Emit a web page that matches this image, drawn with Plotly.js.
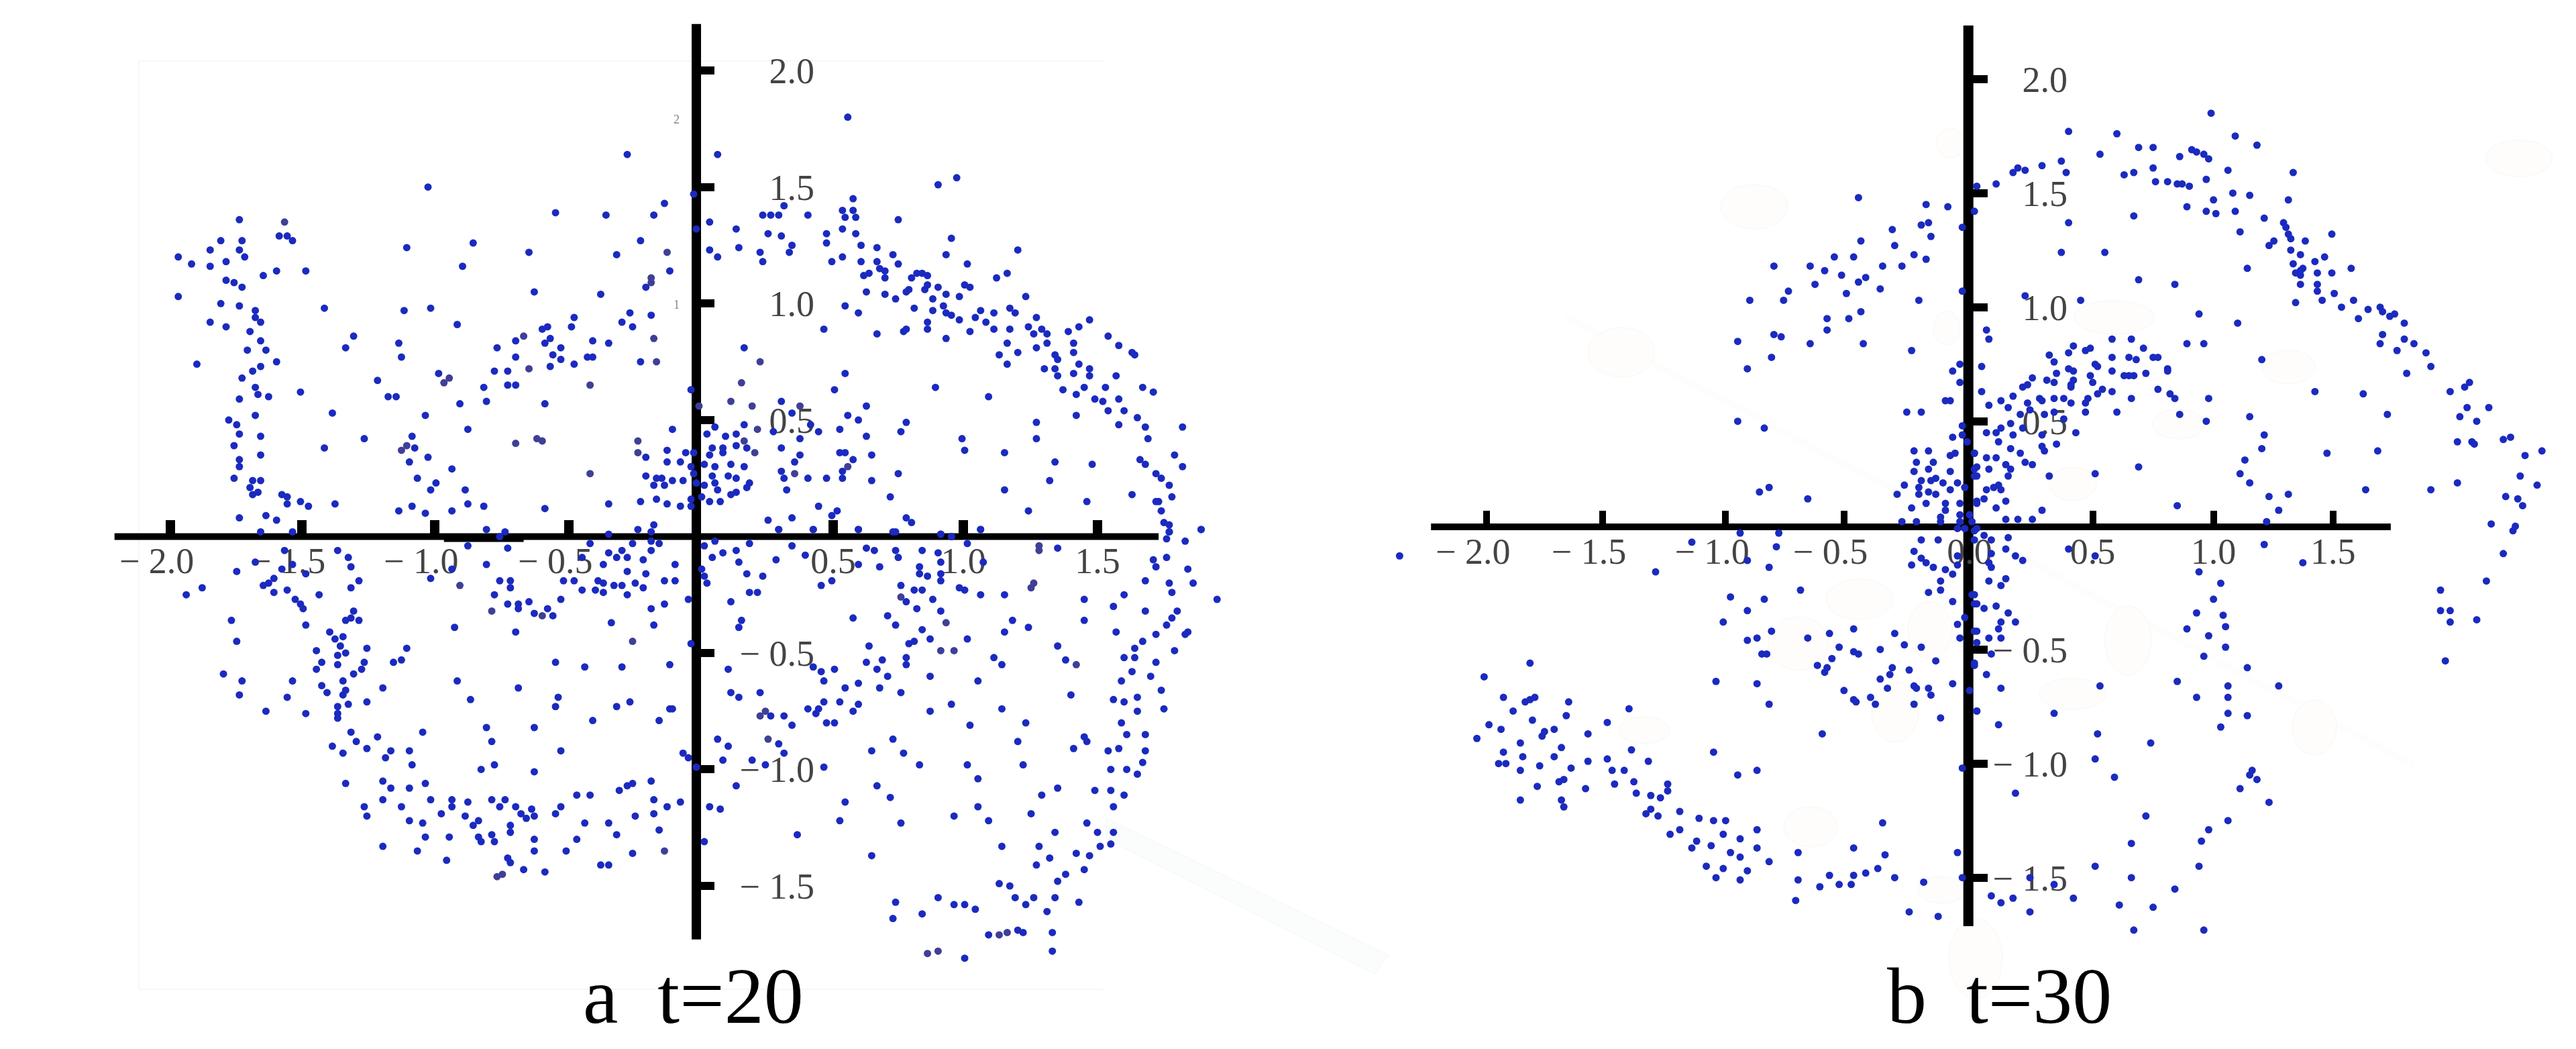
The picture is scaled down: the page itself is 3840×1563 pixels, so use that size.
<!DOCTYPE html>
<html>
<head>
<meta charset="utf-8">
<script src="https://cdn.plot.ly/plotly-3.0.1.min.js"></script>
<style>html,body{margin:0;padding:0;background:#fff}</style>
</head>
<body>
<div id="chart" style="width:3840px;height:1563px"></div>
<script>
// panel a, t=20
const aUpperLeft = [[-1.95,1.2],[-1.9,1.17],[-1.83,1.23],[-1.79,1.27],[-1.71,1.27],[-1.72,1.23],[-1.7,1.2],[-1.77,1.18],[-1.83,1.16],[-1.95,1.03],[-1.77,1.1],[-1.74,1.09],[-1.71,1.07],[-1.79,1],[-1.72,.99],[-1.66,.97],[-1.66,.94],[-1.64,.92],[-1.83,.92],[-1.77,.9],[-1.68,.88],[-1.64,.84],[-1.62,.8],[-1.69,.8],[-1.58,.75],[-1.64,.73],[-1.88,.74],[-1.67,.71],[-1.71,.68],[-1.66,.64],[-1.65,.61],[-1.61,.6],[-1.72,.59],[-1.49,.62],[-1.76,.5],[-1.66,.52],[-1.73,.48],[-1.72,.44],[-1.64,.43],[-1.74,.39],[-1.64,.35],[-1.72,.33],[-1.72,.3],[-1.74,.25],[-1.67,.24],[-1.64,.24],[-1.68,.21],[-1.67,.18],[-1.65,.19],[-1.56,.18],[-1.54,.17],[-1.54,.14],[-1.49,.15],[-1.46,.13],[-1.36,.14],[-1.72,.08],[-1.62,.09],[-1.58,.07],[-1.64,.02],[-1.52,.02],[-1.72,1.36],[-1.57,1.29],[-1.54,1.29],[-1.52,1.27],[-1.63,1.12],[-1.58,1.14],[-1.47,1.14],[-1.4,.98],[-.26,1.64],[-1.01,1.5],[-.12,1.43],[-.53,1.39],[-.34,1.38],[-.16,1.38],[-1.09,1.24],[-.84,1.26],[-.88,1.16],[-.63,1.22],[-.61,1.05],[-.36,1.04],[-.3,1.21],[-.21,1.27],[-.1,1.14],[-.19,1.07],[-1.1,.97],[-1,.98],[-.9,.91],[-1.29,.86],[-1.32,.81],[-1.12,.83],[-1.11,.77],[-1.2,.67],[-1.16,.6],[-1.13,.6],[-1.02,.52],[-1.37,.53],[-1.25,.42],[-1.4,.38],[-1.07,.43],[-1.06,.38],[-1.08,.32],[-1.01,.34],[-.92,.29],[-1.05,.25],[-.98,.23],[-1,.2],[-.87,.2],[-.86,.14],[-.8,.13],[-1.07,.13],[-1.12,.11],[-1.02,.1],[-.92,.11],[-.79,.03],[-.72,.02],[-.74,0],[-.57,.12],[-.97,.7],[-.8,.64],[-.76,.71],[-.71,.71],[-.71,.65],[-.68,.65],[-.55,.73],[-.51,.76],[-.46,.74],[-.41,.77],[-.39,.77],[-.54,.78],[-.51,.81],[-.57,.83],[-.55,.85],[-.68,.77],[-.75,.81],[-.68,.84],[-.58,.89],[-.56,.9],[-.47,.9],[-.46,.94],[-.39,.84],[-.33,.83],[-.25,.96],[-.28,.92],[-.24,.9],[-.17,.95],[-.21,.75],[-.89,.57],[-.79,.58],[-.57,.57],[-.86,.46],[-.19,.34],[-.11,.37],[-.11,.32],[-.19,.26],[-.15,.25],[-.13,.25],[-.16,.22],[-.12,.22],[-.21,.15],[-.15,.16],[-.33,.14],[-.11,.14],[-.16,.05],[-.22,.03],[-.17,.02],[-.33,.01]];
const aUpperRight = [[.57,1.8],[.08,1.64],[-.01,1.47],[.91,1.51],[.98,1.54],[.59,1.45],[.33,1.42],[.25,1.38],[.28,1.38],[.31,1.38],[.42,1.38],[.55,1.4],[.59,1.4],[.56,1.37],[.6,1.37],[.76,1.36],[.05,1.35],[.15,1.32],[0,1.32],[.27,1.3],[.32,1.29],[.49,1.3],[.55,1.32],[.6,1.3],[.96,1.28],[.49,1.26],[.62,1.25],[.68,1.24],[.74,1.21],[1.21,1.23],[.05,1.23],[.16,1.24],[.24,1.22],[.36,1.25],[.35,1.22],[.08,1.2],[.25,1.18],[.51,1.18],[.55,1.2],[.62,1.18],[.68,1.18],[.76,1.17],[.94,1.21],[1.02,1.17],[1.17,1.13],[1.13,1.11],[.69,1.15],[.71,1.14],[.65,1.13],[.63,1.12],[.71,1.11],[.83,1.13],[.85,1.13],[.87,1.12],[.81,1.11],[.87,1.08],[.86,1.06],[.91,1.07],[1.01,1.08],[1.03,1.07],[.8,1.06],[.79,1.05],[.64,1.05],[.71,1.04],[.75,1.02],[.94,1.04],[.89,1.02],[.99,1.03],[1.24,1.03],[.93,.99],[.82,.98],[.56,.99],[.61,.96],[.89,.97],[.94,.96],[.96,.95],[.99,.93],[1.07,.97],[1.12,.96],[1.18,.98],[1.2,.96],[1.28,.94],[1.48,.93],[1.05,.94],[1.09,.92],[.87,.92],[.87,.89],[1.25,.9],[1.12,.89],[1.18,.89],[1.3,.89],[1.4,.88],[1.44,.9],[1.03,.88],[.48,.89],[.68,.87],[.78,.88],[.79,.89],[.94,.85],[1.27,.87],[1.32,.87],[1.55,.86],[1.32,.83],[1.42,.83],[1.17,.83],[1.59,.82],[1.28,.81],[1.21,.79],[1.14,.78],[1.35,.78],[1.42,.79],[1.64,.79],[1.65,.78],[.18,.81],[1.36,.76],[1.17,.74],[1.44,.74],[1.31,.72],[1.35,.72],[1.48,.72],[1.42,.7],[1.48,.69],[1.36,.69],[1.58,.69],[.56,.7],[1.46,.64],[1.54,.64],[1.68,.64],[1.72,.62],[1.38,.63],[1.43,.61],[.9,.64],[1.1,.6],[.52,.63],[-.02,.63],[1.5,.59],[1.53,.58],[1.59,.59],[1.55,.54],[1.61,.54],[1.43,.52],[1.66,.51],[1.28,.49],[1.59,.48],[1.69,.47],[1.83,.47],[1.28,.42],[1.7,.42],[1,.42],[1.01,.37],[1.16,.36],[1.8,.35],[1.67,.33],[1.69,.31],[1.83,.3],[1.35,.32],[1.49,.31],[1.73,.27],[1.75,.25],[1.33,.24],[1.78,.22],[1.16,.2],[1.79,.17],[1.64,.18],[1.74,.15],[1.73,.15],[1.47,.15],[1.75,.11],[1.25,.11],[1.76,.06],[1.78,.05],[1.78,.02],[1.9,.03],[1.07,.03],[.92,.01],[.96,0]];
const aCenter = [[.32,.58],[.36,.53],[.57,.52],[.61,.5],[.79,.49],[.64,.56],[.43,.48],[.46,.45],[.54,.46],[.77,.45],[.29,.45],[.18,.48],[.07,.47],[.04,.44],[.11,.43],[.15,.44],[-.09,.46],[.39,.42],[.64,.43],[.06,.38],[.1,.38],[.15,.39],[.19,.38],[.32,.38],[.39,.35],[.54,.36],[.56,.36],[.66,.35],[-.04,.36],[-.01,.36],[.05,.35],[.1,.36],[-.06,.32],[-.02,.3],[.03,.31],[.07,.3],[.13,.31],[.18,.3],[.37,.32],[.59,.33],[.32,.28],[-.01,.27],[.06,.26],[.12,.26],[.15,.25],[.33,.25],[.42,.25],[.49,.25],[.55,.25],[.55,.28],[.76,.27],[.66,.24],[-.09,.24],[-.05,.24],[0,.23],[.03,.22],[.07,.23],[.2,.23],[.08,.2],[.15,.19],[.19,.21],[.34,.2],[.13,.18],[-.02,.16],[.02,.17],[.05,.15],[.09,.15],[-.06,.13],[-.02,.13],[.46,.13],[.53,.11],[.51,.09],[.73,.17],[.79,.08],[.81,.06],[.27,.07],[.36,.08],[.31,.03],[.44,.03],[.61,.03],[.74,.02]];
const aLowerLeft = [[-1.55,-.06],[-1.66,-.11],[-1.73,-.15],[-1.56,-.14],[-1.52,-.12],[-1.47,-.16],[-1.35,-.06],[-1.31,-.09],[-1.3,-.13],[-1.27,-.19],[-1.3,-.22],[-1.86,-.22],[-1.92,-.25],[-1.63,-.21],[-1.61,-.2],[-1.59,-.18],[-1.59,-.24],[-1.54,-.23],[-1.51,-.27],[-1.49,-.29],[-1.48,-.31],[-1.42,-.25],[-1.29,-.32],[-1.32,-.36],[-1.27,-.36],[-1.3,-.35],[-1.75,-.36],[-1.47,-.38],[-1.73,-.45],[-1.38,-.41],[-1.36,-.44],[-1.33,-.43],[-1.34,-.47],[-1.24,-.48],[-1.09,-.48],[-1.43,-.49],[-1.35,-.51],[-1.32,-.5],[-1.41,-.54],[-1.35,-.55],[-1.25,-.54],[-1.14,-.54],[-1.11,-.53],[-1.43,-.57],[-1.26,-.57],[-1.29,-.59],[-1.78,-.59],[-1.71,-.62],[-1.52,-.62],[-1.33,-.62],[-1.41,-.64],[-1.39,-.67],[-1.32,-.66],[-1.33,-.68],[-1.18,-.65],[-1.72,-.68],[-1.54,-.69],[-1.35,-.73],[-1.31,-.72],[-1.24,-.71],[-1.62,-.75],[-1.47,-.76],[-1.35,-.76],[-1.35,-.78],[-1.3,-.84],[-1.2,-.86],[-1.28,-.88],[-1.37,-.9],[-1.24,-.91],[-1.33,-.93],[-1.15,-.92],[-1.08,-.92],[-1.17,-.95],[-1.07,-.98],[-1.03,-.84],[-1.32,-1.06],[-1.18,-1.05],[-1.15,-1.08],[-1.08,-1.08],[-1.02,-1.06],[-1.18,-1.13],[-1,-1.13],[-1.25,-1.16],[-1.11,-1.16],[-1.24,-1.2],[-.92,-1.13],[-.92,-1.16],[-.96,-1.19],[-.86,-1.14],[-1.08,-1.22],[-1.03,-1.23],[-.87,-1.2],[-1.02,-1.29],[-.93,-1.29],[-1.18,-1.33],[-1.05,-1.35],[-.94,-1.39],[-.82,-1.22],[-.84,-1.24],[-.82,-1.29],[-.81,-1.31],[-.77,-1.28],[-.76,-1.31],[-.77,-1.13],[-.72,-1.13],[-.74,-1.16],[-.68,-1.16],[-.66,-1.19],[-.62,-1.17],[-.64,-1.21],[-.61,-1.2],[-.7,-1.24],[-.7,-1.27],[-.61,-1.3],[-.61,-1.35],[-.51,-1.16],[-.53,-1.19],[-.45,-1.11],[-.4,-1.11],[-.42,-1.23],[-.33,-1.23],[-.45,-1.3],[-.49,-1.35],[-.3,-1.28],[-.23,-1.2],[-.16,-1.19],[-.16,-1.13],[-.14,-1.26],[-.11,-1.16],[-.24,-1.36],[-.71,-1.38],[-.7,-1.4],[-.65,-1.43],[-.57,-1.44],[-.36,-1.41],[-.33,-1.41],[-.29,-1.09],[-.26,-1.07],[-.24,-1.06],[-.17,-1.05],[-.91,-.39],[-.68,-.41],[-.53,-.54],[-.42,-.56],[-.28,-.56],[-.1,-.55],[-.9,-.62],[-.67,-.65],[-.85,-.7],[-.52,-.69],[-.53,-.73],[-.25,-.71],[-.3,-.73],[-.1,-.74],[-.39,-.79],[-.14,-.79],[-.79,-.82],[-.61,-.82],[-.77,-.88],[-.51,-.92],[-.76,-.98],[-.81,-1],[-.61,-1.01],[-.92,-.14],[-1,-.18],[-.86,-.04],[-.71,-.05],[-.79,-.12],[-.74,-.19],[-.7,-.19],[-.7,-.22],[-.76,-.25],[-.71,-.29],[-.67,-.29],[-.63,-.28],[-.67,-.31],[-.61,-.33],[-.56,-.31],[-.54,-.34],[-.51,-.27],[-.5,-.19],[-.46,-.19],[-.43,-.09],[-.4,-.03],[-.35,-.12],[-.37,-.19],[-.35,-.2],[-.31,-.21],[-.28,-.21],[-.43,-.23],[-.38,-.23],[-.35,-.24],[-.26,-.25],[-.32,-.37],[-.17,-.31],[-.16,-.38],[-.12,-.29],[-.2,-.22],[-.23,-.2],[-.12,-.19],[-.19,-.16],[-.26,-.15],[-.2,-.1],[-.26,-.09],[-.3,-.09],[-.33,-.07],[-.28,-.06],[-.24,-.03],[-.17,-.02],[-.17,-.06],[-.14,-.03]];
const aLowerRight = [[1.77,-.01],[1.84,-.02],[1.9,.03],[1.78,.02],[1.77,-.09],[1.72,-.1],[1.73,-.13],[1.85,-.14],[1.69,-.19],[1.78,-.2],[1.87,-.2],[1.79,-.24],[1.61,-.25],[1.96,-.27],[1.46,-.27],[1.57,-.3],[1.81,-.32],[1.69,-.32],[1.46,-.36],[1.79,-.35],[1.77,-.38],[1.58,-.41],[1.73,-.42],[1.85,-.41],[1.84,-.42],[1.68,-.45],[1.65,-.48],[1.8,-.49],[1.61,-.52],[1.65,-.52],[1.73,-.54],[1.64,-.58],[1.71,-.6],[1.6,-.62],[1.75,-.66],[1.66,-.69],[1.57,-.7],[1.61,-.71],[1.66,-.75],[1.76,-.74],[1.6,-.8],[1.62,-.85],[1.69,-.85],[1.69,-.92],[1.59,-.91],[1.55,-.92],[1.68,-.97],[1.56,-1],[1.62,-1],[1.66,-1.02],[1.5,-1.09],[1.56,-1.09],[1.61,-1.11],[1.57,-1.16],[1.47,-1.23],[1.51,-1.27],[1.57,-1.27],[1.56,-1.32],[1.52,-1.33],[1.48,-1.37],[1.43,-1.36],[1.46,-1.43],[1.39,-1.45],[1.36,-1.48],[1.46,-.86],[1.47,-.88],[1.42,-.91],[1.36,-.47],[1.39,-.53],[1.41,-.68],[1.25,-.39],[1.19,-.36],[1.16,-.41],[1.16,-.25],[1.07,-.25],[1.01,-.23],[.99,-.22],[1.36,-.05],[1.07,.03],[.96,0],[.92,.01],[1.02,-.03],[1.08,-.11],[.92,-.11],[.91,-.07],[.85,-.06],[.84,-.13],[.84,-.16],[.87,-.17],[.92,-.16],[.92,-.19],[.82,-.23],[.85,-.23],[.77,-.21],[.79,-.28],[.83,-.31],[.89,-.27],[.92,-.32],[.85,-.4],[.72,-.34],[.75,-.38],[.59,-.35],[.88,-.44],[1.02,-.44],[.82,-.45],[.8,-.46],[1.12,-.52],[1.15,-.55],[.65,-.47],[.64,-.54],[.7,-.53],[.79,-.52],[.79,-.55],[.68,-.57],[.72,-.6],[.88,-.6],[1.06,-.62],[.61,-.63],[.56,-.65],[.69,-.65],[.77,-.67],[.96,-.72],[1.15,-.74],[.88,-.75],[.61,-.72],[.59,-.75],[.54,-.71],[.48,-.71],[.46,-.74],[.42,-.74],[.45,-.76],[.52,-.8],[.49,-.8],[1.03,-.81],[1.24,-.8],[.33,-.77],[.36,-.81],[.28,-.77],[.74,-.87],[1.21,-.88],[.66,-.92],[.78,-.93],[.31,-.89],[.08,-.87],[.12,-.9],[.1,-.96],[.21,-.96],[.33,-.93],[.26,-.98],[.48,-.99],[.84,-.98],[1.02,-.98],[1.23,-.98],[1.06,-1.04],[.15,-1.07],[.68,-1.07],[.73,-1.12],[.56,-1.14],[1.36,-1.08],[1.3,-1.11],[1.06,-1.16],[1.26,-1.19],[.97,-1.2],[1.1,-1.22],[.77,-1.23],[.54,-1.22],[1.35,-1.27],[.38,-1.28],[1.15,-1.33],[1.29,-1.33],[.66,-1.37],[1.33,-1.38],[1.28,-1.41],[1.14,-1.49],[1.18,-1.5],[1.2,-1.55],[1.27,-1.55],[1.35,-1.55],[1.44,-1.57],[1.24,-1.58],[1.32,-1.61],[.91,-1.55],[.97,-1.58],[1.01,-1.58],[1.05,-1.6],[.75,-1.57],[.85,-1.62],[.74,-1.64],[1.1,-1.71],[1.21,-1.69],[1.23,-1.7],[1.34,-1.7],[1.34,-1.78],[1.01,-1.81],[.12,-.57],[.13,-.67],[.16,-.69],[.24,-.67],[.17,-.36],[.16,-.39],[.13,-.28],[.2,-.24],[.23,-.24],[-.03,-.27],[-.02,-.46],[.05,-1.16],[.09,-1.17],[-.06,-1.14],[.03,-1.31],[0,-.99],[-.09,-.74],[-.08,-.12],[-.08,-.19],[.02,-.14],[.03,-.17],[.04,-.2],[.06,-.09],[.1,-.07],[.15,-.06],[.16,-.11],[.19,-.16],[.25,-.17],[.3,-.1],[.41,-.08],[.36,-.04],[.2,-.03],[.07,-.02],[.03,-.04],[.31,.03],[.44,.03],[.61,.03],[.75,.02],[.51,-.19],[.47,-.21],[.61,-.12],[.69,-.13],[.64,-.05],[.67,-.06],[.75,-.06],[.76,-.09],[.48,-.62],[.44,-.56],[.52,-.57],[.47,-.58],[-.05,-.93],[-.03,-.95]];
// the darker, smeared dots of panel a
const aDim = [[-1.55,1.35],[-.17,1.09],[-.17,1.11],[-.11,1.22],[-.65,.86],[-.95,.66],[-.93,.68],[-.63,.72],[-.4,.65],[-.16,.85],[-.15,.75],[-.68,.4],[-.6,.42],[-.58,.41],[-.22,.41],[-.22,.36],[-1.09,.39],[-1.11,.37],[-.4,.27],[.24,.75],[.17,.66],[.13,.58],[.21,.56],[.01,.56],[.39,.56],[.23,.46],[.18,.41],[.22,.36],[.37,.27],[.57,.3],[-.89,-.21],[-.77,-.32],[-.58,-.34],[-.24,-.45],[.92,-.49],[.97,-.49],[1.29,-.04],[1.29,-.06],[1.26,-.22],[1.27,-.2],[.94,-.37],[.77,-.26],[.27,-.87],[1.43,-.55],[.24,-.77],[.26,-.75],[.87,-1.79],[.91,-1.78],[1.14,-1.71],[1.17,-1.7],[-.73,-1.45],[-.75,-1.46],[-.12,-1.35]];
// panel b, t=30
const bUpperLeft = [[-.46,1.48],[-.18,1.45],[-.09,1.44],[.03,1.53],[.02,1.42],[-.03,1.35],[-.17,1.37],[-.2,1.36],[-.32,1.34],[-.16,1.31],[-.45,1.29],[-.31,1.27],[-.23,1.23],[-.18,1.21],[-.56,1.22],[-.48,1.22],[-.81,1.18],[-.66,1.18],[-.6,1.16],[-.53,1.14],[-.36,1.18],[-.28,1.18],[-.43,1.13],[-.46,1.11],[-.64,1.1],[-.75,1.07],[-.51,1.06],[-.37,1.08],[-.21,1.03],[-.03,1.07],[-.91,1.03],[-.77,1.03],[-.45,.98],[-.59,.95],[-.5,.95],[-.59,.9],[-.81,.88],[-.78,.87],[-.96,.85],[-.66,.84],[-.44,.84],[-.24,.81],[-.82,.78],[-.92,.73],[-.04,.75],[-.07,.72],[-.04,.67],[-.1,.59],[-.08,.59],[-.26,.54],[-.2,.54],[-.96,.5],[-.85,.47],[-.03,.48],[-.03,.44],[-.07,.43],[-.01,.41],[-.23,.37],[-.17,.37],[-.06,.36],[-.08,.35],[-.22,.32],[-.15,.32],[-.17,.29],[-.23,.28],[-.08,.28],[-.2,.24],[-.14,.25],[-.11,.23],[-.16,.24],[-.27,.22],[-.05,.23],[-.3,.18],[-.21,.21],[-.21,.18],[-.14,.18],[-.17,.19],[-.08,.2],[-.02,.21],[-.18,.14],[-.1,.14],[-.04,.14],[-.24,.12],[-.1,.11],[-.12,.08],[-.04,.09],[0,.09],[-.28,.06],[-.22,.06],[-.12,.06],[-.04,.06],[.01,.06],[-.05,.03],[-.02,.03],[.02,.02],[.03,.15],[.02,.26],[.03,.3],[.02,.36],[-.83,.21],[-.87,.19],[-.67,.16]];
const bLowerLeft = [[-2.36,-.09],[-1.15,-.03],[-.95,.01],[-.79,.01],[-.8,-.05],[-.92,-.11],[-.83,-.14],[-1.3,-.16],[-.7,-.24],[-.99,-.27],[-.85,-.28],[-.92,-.33],[-1.02,-.38],[-.82,-.42],[-.92,-.46],[-.88,-.45],[-.67,-.45],[-.58,-.43],[-.48,-.41],[-.31,-.43],[-.27,-.48],[-.2,-.49],[-.54,-.49],[-.37,-.5],[-.48,-.51],[-.46,-.52],[-.86,-.52],[-.84,-.52],[-.57,-.54],[-.63,-.57],[-.59,-.58],[-.6,-.6],[-.32,-.58],[-.25,-.59],[-.33,-.61],[-.37,-.63],[-1.05,-.64],[-.88,-.65],[-.34,-.67],[-.23,-.66],[-.22,-.67],[-.17,-.67],[-.07,-.65],[-.52,-.68],[-.16,-.7],[-.48,-.72],[-.47,-.73],[-.41,-.71],[-.39,-.74],[-.23,-.74],[-.83,-.74],[-.12,-.8],[-.61,-.87],[-.2,-.02],[-.23,-.07],[-.2,-.1],[-.18,-.12],[-.24,-.13],[-.15,-.14],[-.13,-.02],[-.1,-.15],[-.07,-.17],[-.12,-.2],[-.17,-.25],[-.12,-.24],[-.07,-.29],[-.05,-.09],[-.05,-.13],[.01,-.26],[.02,-.3],[-.02,-.36],[-.05,-.39],[-.04,-.45],[.02,-.42],[.02,-.56],[0,-.68],[.03,-.77],[-.14,-.55]];
const bTail = [[-1.82,-.56],[-2.01,-.62],[-1.93,-.71],[-1.84,-.73],[-1.82,-.72],[-1.8,-.71],[-1.66,-.73],[-1.89,-.77],[-1.67,-.79],[-1.41,-.76],[-1.81,-.81],[-1.5,-.82],[-1.99,-.83],[-1.94,-.85],[-1.76,-.86],[-1.72,-.85],[-1.77,-.88],[-1.58,-.87],[-2.04,-.89],[-1.86,-.91],[-1.69,-.93],[-1.4,-.94],[-1.93,-.95],[-1.85,-.97],[-1.72,-.97],[-1.5,-.98],[-1.06,-.95],[-1.58,-.99],[-1.33,-.99],[-1.92,-1],[-1.95,-1],[-1.78,-1.01],[-1.86,-1.03],[-1.65,-1.02],[-1.48,-1.03],[-1.43,-1.03],[-.88,-1.03],[-.96,-1.05],[-1.7,-1.08],[-1.68,-1.07],[-1.79,-1.1],[-1.59,-1.11],[-1.47,-1.09],[-1.39,-1.08],[-1.25,-1.09],[-1.25,-1.12],[-1.38,-1.13],[-1.32,-1.14],[-1.28,-1.15],[-1.86,-1.16],[-1.69,-1.16],[-1.68,-1.19],[-1.32,-1.2],[-1.34,-1.22],[-1.29,-1.23],[-1.2,-1.21],[-1.12,-1.24],[-1.06,-1.25],[-1.01,-1.25],[-1.2,-1.29],[-1.24,-1.31],[-1.02,-1.31],[-.88,-1.29],[-1.13,-1.34],[-.95,-1.33],[-1.07,-1.36],[-1.15,-1.37],[-.88,-1.37],[-.99,-1.39],[-.95,-1.41],[-.71,-1.39],[-.83,-1.43],[-1.09,-1.45],[-1.02,-1.46],[-.92,-1.47],[-1.05,-1.5],[-.95,-1.51],[-.71,-1.51],[-.58,-1.49],[-.48,-1.49],[-.43,-1.48],[-.38,-1.46],[-.31,-1.5],[-.62,-1.54],[-.54,-1.53],[-.49,-1.53],[-.72,-1.6],[-.48,-1.37],[-.36,-1.26],[-.35,-1.4],[-.05,-1.39],[-.03,-1.5],[-.19,-1.52],[-.25,-1.65],[-.13,-1.67],[-.03,-1.02]];
const bUpperRight = [[1,1.85],[.41,1.77],[.61,1.76],[1.1,1.75],[1.19,1.71],[.7,1.7],[.76,1.7],[.92,1.69],[.94,1.68],[.97,1.67],[.99,1.65],[.87,1.66],[.54,1.67],[.38,1.64],[.3,1.62],[.2,1.61],[.23,1.6],[.18,1.59],[.4,1.59],[.76,1.61],[1.07,1.6],[1.34,1.59],[.68,1.59],[.64,1.58],[.77,1.55],[.82,1.55],[.86,1.54],[.88,1.54],[.91,1.53],[.98,1.56],[.11,1.54],[1.09,1.5],[1.16,1.49],[1.32,1.47],[1.01,1.47],[.9,1.44],[.98,1.42],[1.02,1.41],[1.1,1.42],[.68,1.4],[1.22,1.39],[.41,1.37],[1.3,1.37],[1.31,1.35],[1.32,1.32],[1.33,1.3],[1.12,1.33],[1.5,1.32],[1.39,1.29],[1.26,1.29],[1.24,1.27],[1.33,1.25],[.38,1.24],[.56,1.24],[1.37,1.23],[1.47,1.22],[1.43,1.2],[1.34,1.19],[1.38,1.17],[1.37,1.16],[1.15,1.17],[1.58,1.17],[1.35,1.15],[1.37,1.14],[1.44,1.15],[1.5,1.15],[1.37,1.1],[1.44,1.1],[1.44,1.07],[.7,1.12],[.85,1.1],[1.51,1.06],[1.46,1.03],[.23,1.05],[.46,1.03],[1.35,1.02],[1.59,1.03],[1.54,1],[1.7,1],[1.65,.99],[1.71,.98],[1.74,.96],[1.76,.97],[1.8,.93],[1.61,.95],[.95,.97],[1.11,.93],[1.71,.88],[1.8,.86],[1.84,.84],[1.7,.84],[1.77,.81],[1.89,.8],[.9,.84],[.97,.84],[1.21,.77],[1.91,.74],[1.81,.71],[1.99,.63],[2.07,.67],[2.05,.65],[1.43,.63],[1.63,.62],[1.73,.53],[2.03,.52],[2.06,.56],[2.15,.56],[2.1,.5],[.98,.5],[1.16,.52],[1.22,.44],[2.02,.41],[2.08,.41],[2.09,.4],[2.21,.42],[2.24,.43],[1.21,.38],[2.37,.37],[2.3,.35],[1.48,.36],[1.69,.37],[1.14,.33],[1.12,.27],[2.28,.26],[1.16,.23],[2.02,.23],[2.35,.22],[1.64,.2],[1.91,.2],[1.24,.17],[1.32,.18],[2.22,.17],[2.27,.16],[2.29,.13],[1.28,.11],[1.23,.06],[2.16,.05],[2.26,.04],[2.25,.02]];
const bCloud = [[.07,.9],[.08,.86],[.59,.86],[.67,.86],[.43,.83],[.72,.82],[.48,.81],[.5,.82],[.33,.79],[.41,.8],[.78,.78],[.76,.78],[.66,.78],[.69,.77],[.59,.78],[.52,.75],[.53,.74],[.35,.76],[.05,.74],[.41,.73],[.43,.72],[.36,.71],[.59,.72],[.82,.73],[.82,.72],[.64,.7],[.66,.7],[.68,.7],[.73,.71],[.5,.7],[.51,.67],[.26,.69],[.32,.68],[.35,.67],[.43,.68],[.42,.66],[.24,.66],[.22,.65],[.42,.65],[.55,.64],[.59,.63],[.53,.62],[.78,.64],[.83,.62],[.85,.6],[.05,.63],[.18,.61],[.29,.6],[.35,.6],[.39,.6],[.49,.6],[.67,.6],[.99,.6],[.13,.59],[.24,.58],[.08,.57],[.16,.56],[.3,.59],[.42,.58],[.48,.58],[.25,.55],[.48,.54],[.61,.54],[.21,.53],[.35,.54],[.31,.53],[.87,.53],[.39,.51],[.17,.49],[.22,.47],[.13,.47],[.07,.45],[.11,.45],[.18,.44],[.3,.44],[.44,.45],[.12,.41],[.17,.38],[.3,.39],[.36,.4],[.31,.37],[.21,.36],[.02,.36],[.07,.34],[.11,.34],[.23,.32],[.26,.31],[.15,.31],[.7,.3],[.08,.29],[.17,.29],[.02,.29],[.52,.27],[.33,.26],[.16,.26],[.03,.26],[.12,.22],[.1,.21],[.07,.2],[.13,.2],[.06,.16],[.15,.15],[.03,.14],[.86,.13],[.11,.12],[.3,.11],[.26,.07],[.2,.07],[.15,.07],[.03,.03],[.06,0]];
const bLowerRight = [[.16,-.01],[.09,-.02],[.02,-.02],[.09,-.08],[.15,-.06],[.19,-.09],[.22,-.11],[.08,-.12],[.09,-.14],[.41,-.06],[.52,-.09],[1.22,-.04],[1.38,-.12],[.95,-.16],[1.04,-.21],[.15,-.19],[.08,-.2],[.13,-.22],[1.01,-.28],[1.95,-.24],[2.14,-.2],[2.21,-.08],[.02,-.26],[.03,-.3],[.06,-.32],[.11,-.31],[.16,-.34],[.94,-.34],[1.05,-.35],[1.95,-.33],[1.99,-.33],[2.1,-.37],[1.99,-.38],[.13,-.38],[.19,-.38],[.12,-.41],[1.06,-.4],[.9,-.41],[.03,-.42],[.99,-.44],[.08,-.45],[.13,-.45],[.03,-.47],[1.06,-.49],[.09,-.52],[.97,-.53],[1.97,-.55],[.02,-.57],[1.15,-.58],[.07,-.61],[.86,-.64],[1.28,-.66],[.54,-.66],[.13,-.67],[1.07,-.66],[1.07,-.71],[.94,-.71],[.03,-.77],[.35,-.78],[1.07,-.78],[1.15,-.79],[.12,-.83],[1.04,-.84],[.53,-.87],[.75,-.91],[.52,-.98],[1.17,-1.03],[1.16,-1.05],[1.19,-1.07],[.6,-1.06],[1.12,-1.11],[.19,-1.13],[1.24,-1.17],[.73,-1.23],[1.07,-1.25],[.99,-1.29],[.96,-1.34],[.67,-1.35],[.95,-1.45],[.52,-1.45],[.67,-1.5],[.25,-1.5],[.35,-1.53],[.85,-1.55],[.09,-1.58],[.13,-1.61],[.18,-1.59],[.43,-1.59],[.62,-1.62],[.76,-1.63],[.25,-1.65],[.68,-1.73],[.97,-1.73]];

// the hand-drawn ticks of panel a sit a little right of the round values
const xTickValsA = [-1.98, -1.485, -0.985, -0.48, 0.515, 1.005, 1.51];
const xTickValsB = [-2, -1.52, -1.01, -0.52, 0, 0.51, 1.01, 1.505];
const xTickTextNeg = ['− 2.0', '− 1.5', '− 1.0', '− 0.5'];
const xTickTextPos = ['0.5', '1.0', '1.5'];
const yTickVals = [-1.5, -1, -0.5, 0.5, 1, 1.5, 2];
const yTickText = ['− 1.5', '− 1.0', '− 0.5', '0.5', '1.0', '1.5', '2.0'];

const W = 3840, H = 1563;
const BLUE = '#1b2abf', DIM = '#3f3f96';
const px = v => v / W, py = v => 1 - v / H;

function dots(lists, color, xa, ya) {
  const pts = lists.flat();
  return {
    x: pts.map(p => p[0]), y: pts.map(p => p[1]),
    xaxis: xa, yaxis: ya, type: 'scatter', mode: 'markers', cliponaxis: false,
    marker: {color: color, size: 11, symbol: 'circle'}, hoverinfo: 'skip', showlegend: false
  };
}

const traces = [
  dots([aUpperLeft, aUpperRight, aCenter, aLowerLeft, aLowerRight], BLUE, 'x', 'y'),
  dots([aDim], DIM, 'x', 'y'),
  dots([bUpperLeft, bLowerLeft, bTail, bUpperRight, bCloud, bLowerRight], BLUE, 'x2', 'y2')
];

const tickFont = {family: '"Liberation Serif", serif', size: 54, color: '#444'};
const negText = xTickTextNeg.map(t => t + '\u00a0\u00a0\u00a0');

function xAxis(domain, range, pos, tickw, vals, text) {
  return {
    domain: domain, range: range, anchor: 'free', position: pos, side: 'bottom',
    showline: false, showgrid: false, zeroline: false,
    tickmode: 'array', tickvals: vals, ticktext: text, tickfont: tickFont,
    ticks: 'inside', ticklen: 24, tickwidth: tickw, tickcolor: '#000',
    ticklabelstandoff: 0, layer: 'below traces'
  };
}
function yAxis(range, pos, standoff) {
  return {
    domain: [0, 1], range: range, anchor: 'free', position: pos, side: 'left',
    showline: false, showgrid: false, zeroline: false,
    tickmode: 'array', tickvals: yTickVals, ticktext: yTickText, tickfont: tickFont,
    ticks: 'inside', ticklen: 26, tickwidth: 12, tickcolor: '#000',
    ticklabelstandoff: standoff, layer: 'below traces'
  };
}

const axisLine = (xref, yref, x0, y0, x1, y1, w) => ({
  type: 'line', xref: xref, yref: yref, x0: x0, y0: y0, x1: x1, y1: y1,
  layer: 'below', line: {color: '#000', width: w}
});
// faint scanning ghosts behind the dots, in page pixels
const ghost = (x, y, rx, ry) => ({
  type: 'circle', xref: 'paper', yref: 'paper',
  x0: px(x - rx), x1: px(x + rx), y0: py(y + ry), y1: py(y - ry),
  layer: 'below', fillcolor: '#fefdfb', line: {color: '#f7f7f5', width: 1}
});
const ghosts = [[2615,308,50,33],[2417,525,50,37],[2908,213,22,22],[2902,489,20,25],[3755,236,50,27],[3152,473,60,25],[3411,547,40,25],[3248,632,40,22],[3090,721,35,25],[2772,893,50,30],[2681,959,45,40],[2877,939,33,43],[2825,1061,35,45],[2451,1088,38,20],[2699,1232,40,30],[2894,1326,35,20],[3172,954,35,52],[3090,1034,50,23],[3450,1084,33,41],[2945,1428,40,60]];

const shapes = [
  {type: 'line', xref: 'paper', yref: 'paper', x0: px(2334), y0: py(472), x1: px(3600), y1: py(1140), layer: 'below', line: {color: '#fdfdfc', width: 10}},
  ...ghosts.map(g => ghost(g[0], g[1], g[2], g[3])),
  {type: 'path', xref: 'paper', yref: 'paper', layer: 'below', fillcolor: '#fafdfb', line: {color: '#f3f7f4', width: 1},
    path: `M ${px(1649)} ${py(1219)} L ${px(2070)} ${py(1423)} L ${px(2049)} ${py(1451)} L ${px(1649)} ${py(1250)} Z`},
  {type: 'path', xref: 'paper', yref: 'paper', layer: 'below', line: {color: '#eeeeee', width: 1},
    path: `M ${px(1644)} ${py(91)} L ${px(207)} ${py(91)} L ${px(207)} ${py(1474)} L ${px(1644)} ${py(1474)}`},
  axisLine('x', 'y', -2.19, 0, 1.74, 0, 10),
  axisLine('x', 'y', -0.95, -0.015, -0.65, -0.015, 6),
  axisLine('x', 'y', 0, 2.2, 0, -1.73, 14),
  axisLine('x2', 'y2', -2.23, 0.037, 1.744, 0.037, 10),
  axisLine('x2', 'y2', -0.005, 2.234, -0.005, -1.713, 15)
];

const titleFont = {family: '"Liberation Serif", serif', size: 118, color: '#000'};
const caption = (text, x) => ({
  text: text, xref: 'paper', yref: 'paper', x: px(x), y: py(1552), xanchor: 'center', yanchor: 'bottom',
  showarrow: false, font: titleFont
});
const tiny = (text, x, y) => ({
  text: text, xref: 'paper', yref: 'paper', x: px(x), y: py(y), xanchor: 'center', yanchor: 'middle',
  showarrow: false, font: {family: '"Liberation Serif", serif', size: 18, color: '#888'}
});

const layout = {
  width: W, height: H,
  margin: {l: 0, r: 0, t: 0, b: 0},
  paper_bgcolor: '#fff', plot_bgcolor: 'rgba(0,0,0,0)',
  showlegend: false,
  xaxis: xAxis([0, 1960 / W], [-2.621, 2.328], py(799), 14, xTickValsA, [...negText, ...xTickTextPos]),
  yaxis: yAxis([-2.2, 2.303], px(1038), -176),
  xaxis2: xAxis([1960 / W, 1], [-2.711, 2.511], py(785), 10, xTickValsB, [...negText, '0.0', ...xTickTextPos]),
  yaxis2: yAxis([-2.251, 2.346], px(2936), -146),
  shapes: shapes,
  annotations: [caption('a\u00a0\u00a0t=20', 1033), caption('b\u00a0\u00a0t=30', 2980), tiny('2', 1008, 178), tiny('1', 1008, 454)]
};

Plotly.newPlot('chart', traces, layout, {staticPlot: true});
</script>
</body>
</html>
